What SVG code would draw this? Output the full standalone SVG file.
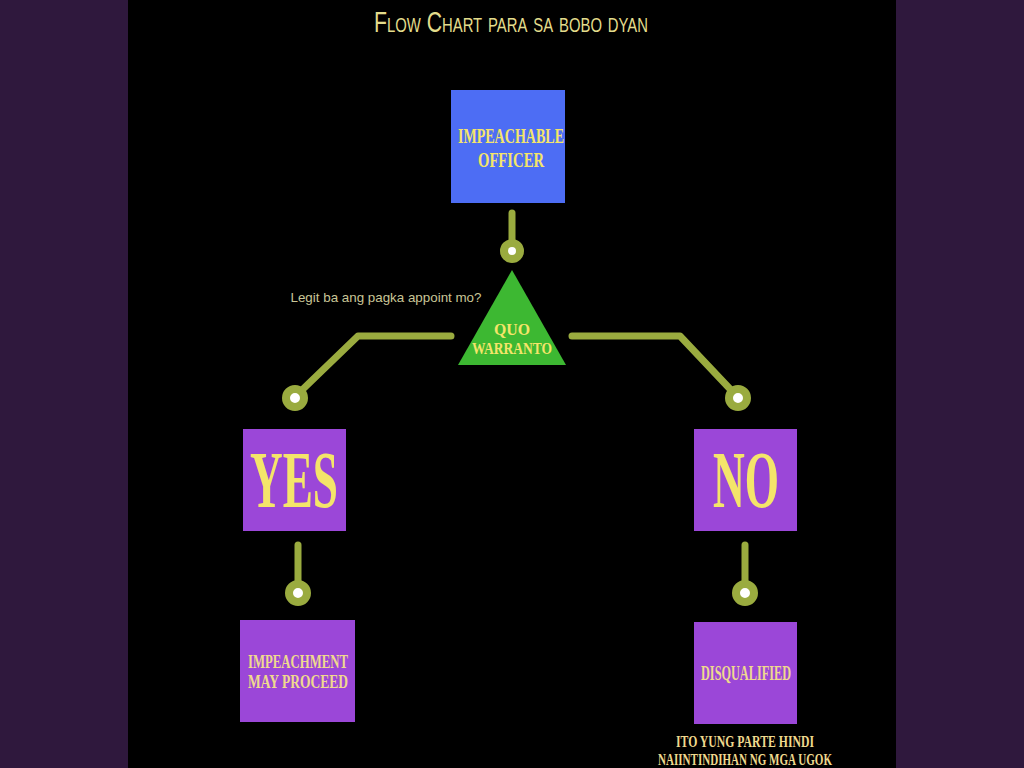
<svg xmlns="http://www.w3.org/2000/svg" width="1024" height="768" viewBox="0 0 1024 768">
<style>
.box{fill:#9b47d8}
.lbl{font-family:"Liberation Serif",serif;fill:#f4e56a;text-anchor:middle}
.sm{font-family:"Liberation Serif",serif;fill:#efd98e;text-anchor:middle}
.wire{fill:none;stroke:#9aab3f;stroke-width:7;stroke-linecap:round;stroke-linejoin:round}
.ring{fill:#ffffff;stroke:#9aab3f;stroke-width:8}
</style>
<rect x="0" y="0" width="1024" height="768" fill="#2f183d"/>
<rect x="128" y="0" width="768" height="768" fill="#000000"/>
<text x="511" y="32" font-family="Liberation Sans, sans-serif" font-size="30" font-variant="small-caps" fill="#e3dc8c" text-anchor="middle" textLength="274" lengthAdjust="spacingAndGlyphs">Flow Chart para sa bobo dyan</text>
<g id="connectors">
<path class="wire" d="M512 213 V243"/>
<circle class="ring" cx="512" cy="251" r="8"/>
<path class="wire" d="M451 336 H358 L302 390"/>
<circle class="ring" cx="295" cy="398" r="9"/>
<path class="wire" d="M572 336 H680 L731 390"/>
<circle class="ring" cx="738" cy="398" r="9"/>
<path class="wire" d="M298 545 V583"/>
<circle class="ring" cx="298" cy="593" r="9"/>
<path class="wire" d="M745 545 V583"/>
<circle class="ring" cx="745" cy="593" r="9"/>
</g>
<g id="impeachable-officer">
<rect x="451" y="90" width="114" height="113" fill="#4d6df4"/>
<text class="lbl" x="511" y="143" font-size="22" font-weight="bold" textLength="106" lengthAdjust="spacingAndGlyphs">IMPEACHABLE</text>
<text class="lbl" x="511" y="167" font-size="22" font-weight="bold" textLength="66" lengthAdjust="spacingAndGlyphs">OFFICER</text>
</g>
<g id="quo-warranto">
<polygon points="512,270 458,365 566,365" fill="#3db832"/>
<text class="lbl" x="512" y="335" font-size="17" font-weight="bold" textLength="36" lengthAdjust="spacingAndGlyphs">QUO</text>
<text class="lbl" x="512" y="354" font-size="17" font-weight="bold" textLength="80" lengthAdjust="spacingAndGlyphs">WARRANTO</text>
<text x="386" y="302" font-family="Liberation Sans, sans-serif" font-size="13" fill="#c9c697" text-anchor="middle" textLength="191" lengthAdjust="spacingAndGlyphs">Legit ba ang pagka appoint mo?</text>
</g>
<g id="yes">
<rect class="box" x="243" y="429" width="103" height="102"/>
<text class="lbl" x="294" y="507" font-size="80" font-weight="bold" textLength="88" lengthAdjust="spacingAndGlyphs">YES</text>
</g>
<g id="no">
<rect class="box" x="694" y="429" width="103" height="102"/>
<text class="lbl" x="746" y="507" font-size="80" font-weight="bold" textLength="66" lengthAdjust="spacingAndGlyphs">NO</text>
</g>
<g id="impeachment-may-proceed">
<rect class="box" x="240" y="620" width="115" height="102"/>
<text class="sm" x="298" y="668" font-size="18" font-weight="bold" textLength="100" lengthAdjust="spacingAndGlyphs">IMPEACHMENT</text>
<text class="sm" x="298" y="688" font-size="18" font-weight="bold" textLength="100" lengthAdjust="spacingAndGlyphs">MAY PROCEED</text>
</g>
<g id="disqualified">
<rect class="box" x="694" y="622" width="103" height="102"/>
<text class="sm" x="746" y="680" font-size="22" font-weight="bold" textLength="90" lengthAdjust="spacingAndGlyphs">DISQUALIFIED</text>
<text class="sm" x="745" y="747" font-size="16" font-weight="bold" fill="#e8df9a" textLength="138" lengthAdjust="spacingAndGlyphs">ITO YUNG PARTE HINDI</text>
<text class="sm" x="745" y="765" font-size="16" font-weight="bold" fill="#e8df9a" textLength="174" lengthAdjust="spacingAndGlyphs">NAIINTINDIHAN NG MGA UGOK</text>
</g>
</svg>
